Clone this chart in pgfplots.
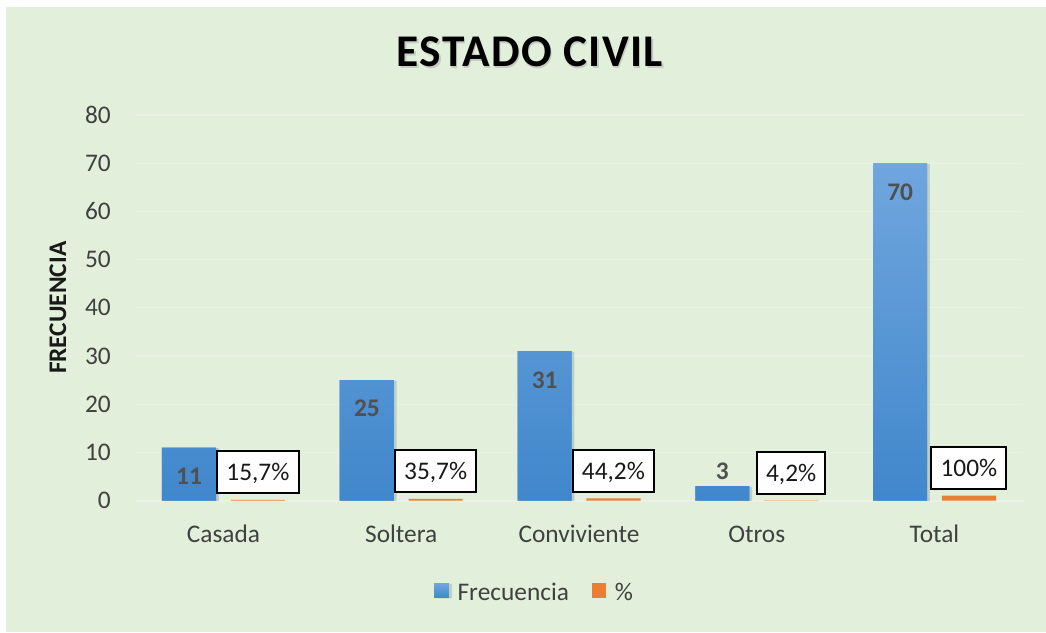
\documentclass[border=0pt]{standalone}
\usepackage{pgfplots}
\pgfplotsset{compat=1.18}
\usepackage{fontspec}
\setmainfont{Carlito}
\definecolor{bgc}{RGB}{226,239,218}
\definecolor{gridc}{RGB}{231,242,225}
\definecolor{basec}{RGB}{236,240,233}
\definecolor{bluetop}{RGB}{112,166,222}
\definecolor{bluebot}{RGB}{64,135,203}
\definecolor{bluemid}{RGB}{84,150,214}
\definecolor{orangec}{RGB}{237,125,49}
\definecolor{txtc}{RGB}{64,64,64}
\definecolor{lblc}{RGB}{80,80,80}
\begin{document}
\begin{tikzpicture}
\fill[white] (0pt,0pt) rectangle (784.5pt,-474pt);
\fill[bgc] (4.5pt,-5.25pt) rectangle (784.5pt,-474pt);
\node[anchor=base, text=black!30, opacity=0.6, font=\fontsize{34}{38}\selectfont\bfseries\addfontfeatures{LetterSpace=3}] at (398.6pt,-51.3pt) {ESTADO CIVIL};
\node[anchor=base, text=black, font=\fontsize{34}{38}\selectfont\bfseries\addfontfeatures{LetterSpace=3}] at (397.5pt,-50pt) {ESTADO CIVIL};
\begin{axis}[
  at={(100.95pt,-375.4pt)}, anchor=south west,
  scale only axis, width=666.6pt, height=289.1pt,
  xmin=-0.5, xmax=4.5, ymin=0, ymax=80,
  enlargelimits=false, clip=false,
  xtick={0,...,4}, xticklabels={Casada,Soltera,Conviviente,Otros,Total},
  ytick={0,10,...,80},
  /pgf/number format/assume math mode=true,
  axis line style={draw=none}, major tick length=0pt,
  ymajorgrids, grid style={color=gridc, line width=1pt},
  extra y ticks={0}, extra y tick labels={},
  extra y tick style={grid style={color=basec, line width=1.5pt}},
  tick label style={text=txtc, font=\fontsize{19}{22}\selectfont},
  yticklabel style={anchor=east, inner sep=0pt, xshift=-17.7pt},
  xticklabel style={anchor=base, inner sep=0pt, yshift=-31.1pt},
  ylabel={FRECUENCIA},
  every axis y label/.style={at={(axis description cs:0,0.5)}, xshift=-57.45pt, rotate=90, anchor=center, font=\fontsize{19}{22}\selectfont\bfseries, text=black!90},
  legend style={at={(axis description cs:0.4505,0)}, yshift=-69.4pt, anchor=center, draw=none, fill=none, legend columns=-1, font=\fontsize{19}{22}\selectfont, text=txtc, inner sep=0pt, /tikz/every odd column/.append style={column sep=4.5pt}, /tikz/every even column/.append style={column sep=15pt}},
  legend image code/.code={\fill[#1] (2pt,-3.5pt) rectangle (12.9pt,7.5pt);},
]
\addplot[ybar, bar width=40.65pt, bar shift=-25.8pt, draw=none, fill=bluemid, top color=bluetop, bottom color=bluebot,
  preaction={fill=black, opacity=0.10, transform canvas={xshift=2pt, yshift=-0.5pt}},
  point meta=explicit symbolic,
  nodes near coords,
  every node near coord/.append style={anchor=north, inner sep=0pt, xshift=-25.8pt, yshift=-15pt, text=lblc, font=\fontsize{19}{22}\selectfont\bfseries},
] table[meta=lab] {
x y lab
0 11 11
1 25 25
2 31 31
3 3 {}
4 70 70
};
\addlegendentry{Frecuencia}
\addplot[ybar, bar width=40.65pt, bar shift=25.8pt, draw=none, fill=orangec,
  point meta=explicit symbolic,
  nodes near coords,
  every node near coord/.append style={anchor=south, xshift=25.8pt, yshift=4pt, draw=black, line width=1.5pt, fill=white, inner xsep=6.9pt, inner ysep=9.5pt, text height=12.5pt, text depth=0pt, minimum height=31pt, text=black!90, font=\fontsize{19}{22}\selectfont},
] table[meta=lab] {
x y lab
0 0.157 15,7\%
1 0.357 35,7\%
2 0.442 44,2\%
3 0.042 4,2\%
4 1 100\%
};
\addlegendentry{\%}
\addplot[draw=none, mark=none, forget plot,
  nodes near coords,
  every node near coord/.append style={anchor=south, inner sep=0pt, xshift=-25.8pt, yshift=4.5pt, text=lblc, font=\fontsize{19}{22}\selectfont\bfseries},
] coordinates {(3,3)};
\end{axis}
\end{tikzpicture}
\end{document}
